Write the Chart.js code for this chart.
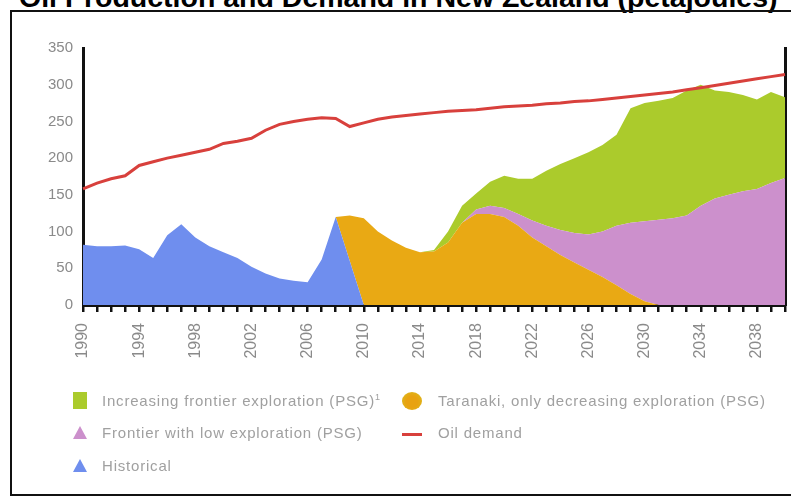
<!DOCTYPE html>
<html>
<head>
<meta charset="utf-8">
<script src="https://cdn.jsdelivr.net/npm/chart.js@4.4.1/dist/chart.umd.min.js"></script>
<style>
  body { margin: 0; background: #fff; width: 791px; height: 503px; overflow: hidden; position: relative; font-family: "Liberation Sans", Arial, sans-serif; }
  #title { position: absolute; left: 19px; top: -17px; font-size: 28.5px; font-weight: bold; color: #000; white-space: nowrap; line-height: 29px; }
  #frame { position: absolute; left: 10px; top: 10px; width: 800px; height: 486px; border: 2px solid #111; box-sizing: border-box; }
  #chartBox { position: absolute; left: 0; top: 0; width: 791px; height: 503px; }
  .leg { position: absolute; font-size: 15px; letter-spacing: 0.8px; color: #a0a0a0; white-space: nowrap; line-height: 16px; }
  .leg sup { font-size: 9px; position: relative; top: -6px; vertical-align: baseline; line-height: 0; }
  .mk { position: absolute; }
</style>
</head>
<body>
<div id="title">Oil Production and Demand in New Zealand (petajoules)</div>
<div id="frame"></div>
<div id="chartBox"><canvas id="chart" width="791" height="503"></canvas></div>
<div id="legend"></div>
<script>
const years = Array.from({ length: 51 }, (_, i) => String(1990 + i));
const yTicks = [0, 50, 100, 150, 200, 250, 300, 350];

const historical = [82, 80, 80, 81, 76, 64, 95, 110, 92, 80, 72, 64, 52, 43, 36, 33, 31, 62, 120, 60, 0,
  0, 0, 0, 0, 0, 0, 0, 0, 0, 0, 0, 0, 0, 0, 0, 0, 0, 0, 0, 0, 0, 0, 0, 0, 0, 0, 0, 0, 0, 0];
const taranaki = [0, 0, 0, 0, 0, 0, 0, 0, 0, 0, 0, 0, 0, 0, 0, 0, 0, 0, 0,
  62, 118, 100, 88, 78, 72, 73, 85, 112, 124, 124, 120, 108, 92, 80, 68, 58, 48, 38, 27, 15, 5,
  0, 0, 0, 0, 0, 0, 0, 0, 0, 0];
const frontierLow = [0, 0, 0, 0, 0, 0, 0, 0, 0, 0, 0, 0, 0, 0, 0, 0, 0, 0, 0, 0, 0, 0, 0, 0, 0, 0, 0, 0,
  6, 11, 12, 16, 23, 28, 34, 40, 48, 62, 81, 97, 109, 116, 118, 122, 135, 145, 150, 155, 158, 166, 173];
const frontierHigh = [0, 0, 0, 0, 0, 0, 0, 0, 0, 0, 0, 0, 0, 0, 0, 0, 0, 0, 0, 0, 0, 0, 0, 0, 0,
  2, 15, 23, 22, 33, 44, 48, 57, 75, 90, 102, 112, 118, 124, 156, 161, 162, 164, 170, 165, 147, 140, 131, 122, 124, 110];
const demand = [158, 166, 172, 176, 190, 195, 200, 204, 208, 212,
  220, 223, 227, 238, 246, 250, 253, 255, 254, 243,
  248, 253, 256, 258, 260, 262, 264, 265, 266, 268,
  270, 271, 272, 274, 275, 277, 278, 280, 282, 284,
  286, 288, 290, 293, 296, 299, 302, 305, 308, 311, 314];

const colors = {
  historical: '#6f8eee',
  taranaki: '#e9a914',
  frontierLow: '#cc90cc',
  frontierHigh: '#abcb2c',
  demand: '#d8403c'
};

function area(label, data, color, fill) {
  return { label, data, backgroundColor: color, borderWidth: 0, pointRadius: 0, fill, stack: 'supply', order: 1, tension: 0 };
}

new Chart(document.getElementById('chart'), {
  type: 'line',
  data: {
    labels: years,
    datasets: [
      area('Historical', historical, colors.historical, 'origin'),
      area('Taranaki, only decreasing exploration (PSG)', taranaki, colors.taranaki, '-1'),
      area('Frontier with low exploration (PSG)', frontierLow, colors.frontierLow, '-1'),
      area('Increasing frontier exploration (PSG)', frontierHigh, colors.frontierHigh, '-1'),
      { label: 'Oil demand', data: demand, borderColor: colors.demand, borderWidth: 3, pointRadius: 0, fill: false, stack: 'demand', order: 0, tension: 0 }
    ]
  },
  options: {
    responsive: false,
    animation: false,
    layout: { padding: { left: 30, right: 0, top: 48, bottom: 138 } },
    plugins: { legend: { display: false }, tooltip: { enabled: false } },
    scales: {
      x: {
        offset: false,
        grid: { display: true, drawOnChartArea: false, drawTicks: true, tickLength: 7, color: '#111', lineWidth: 2.5 },
        border: { display: true, color: '#111', width: 3 },
        ticks: {
          autoSkip: false, minRotation: 90, maxRotation: 90, padding: 11,
          color: '#8a8a8a', font: { size: 16, family: 'Liberation Sans' },
          callback: function (v, i) { return (i % 4 === 0 && i < 50) ? years[i] : ''; }
        },
        afterFit: s => { s.height = 60; s.paddingLeft = 0; s.paddingRight = 0; }
      },
      y: {
        stacked: true, min: 0, max: 350,
        afterBuildTicks: s => { s.ticks = yTicks.map(v => ({ value: v })); },
        grid: { display: false, drawTicks: false },
        border: { display: true, color: '#111', width: 3 },
        ticks: { color: '#8a8a8a', padding: 10, font: { size: 15, family: 'Liberation Sans' } },
        afterFit: s => { s.width = 53; }
      },
      y2: {
        position: 'right', min: 0, max: 350,
        grid: { display: false, drawTicks: false },
        border: { display: true, color: '#111', width: 3 },
        ticks: { display: false },
        afterFit: s => { s.width = 6; }
      }
    }
  }
});

// legend drawn as html so it can sit in two columns like the original
const legendItems = [
  { text: 'Increasing frontier exploration (PSG)', sup: '1', color: colors.frontierHigh, shape: 'square', x: 73, y: 392 },
  { text: 'Frontier with low exploration (PSG)', color: colors.frontierLow, shape: 'triangle', x: 73, y: 424 },
  { text: 'Historical', color: colors.historical, shape: 'triangle', x: 73, y: 457 },
  { text: 'Taranaki, only decreasing exploration (PSG)', color: colors.taranaki, shape: 'circle', x: 402, y: 392 },
  { text: 'Oil demand', color: colors.demand, shape: 'line', x: 402, y: 424 }
];
const legend = document.getElementById('legend');
legendItems.forEach(it => {
  const mk = document.createElement('div');
  mk.className = 'mk';
  if (it.shape === 'square') {
    Object.assign(mk.style, { left: it.x + 'px', top: it.y + 'px', width: '14px', height: '17px', background: it.color });
  } else if (it.shape === 'triangle') {
    Object.assign(mk.style, { left: it.x + 'px', top: (it.y + 2) + 'px', width: 0, height: 0,
      borderLeft: '7px solid transparent', borderRight: '7px solid transparent', borderBottom: '13px solid ' + it.color });
  } else if (it.shape === 'circle') {
    Object.assign(mk.style, { left: it.x + 'px', top: it.y + 'px', width: '20px', height: '18px', borderRadius: '50%',
      background: 'radial-gradient(circle at 50% 55%, #e8a210 40%, #d8c020 100%)' });
  } else {
    Object.assign(mk.style, { left: it.x + 'px', top: (it.y + 9) + 'px', width: '20px', height: '3px', background: it.color });
  }
  legend.appendChild(mk);
  const t = document.createElement('div');
  t.className = 'leg';
  t.style.left = (it.shape === 'circle' || it.shape === 'line' ? it.x + 36 : it.x + 29) + 'px';
  t.style.top = (it.y + 1) + 'px';
  t.textContent = it.text;
  if (it.sup) {
    const s = document.createElement('sup');
    s.textContent = it.sup;
    t.appendChild(s);
  }
  legend.appendChild(t);
});
</script>
</body>
</html>
